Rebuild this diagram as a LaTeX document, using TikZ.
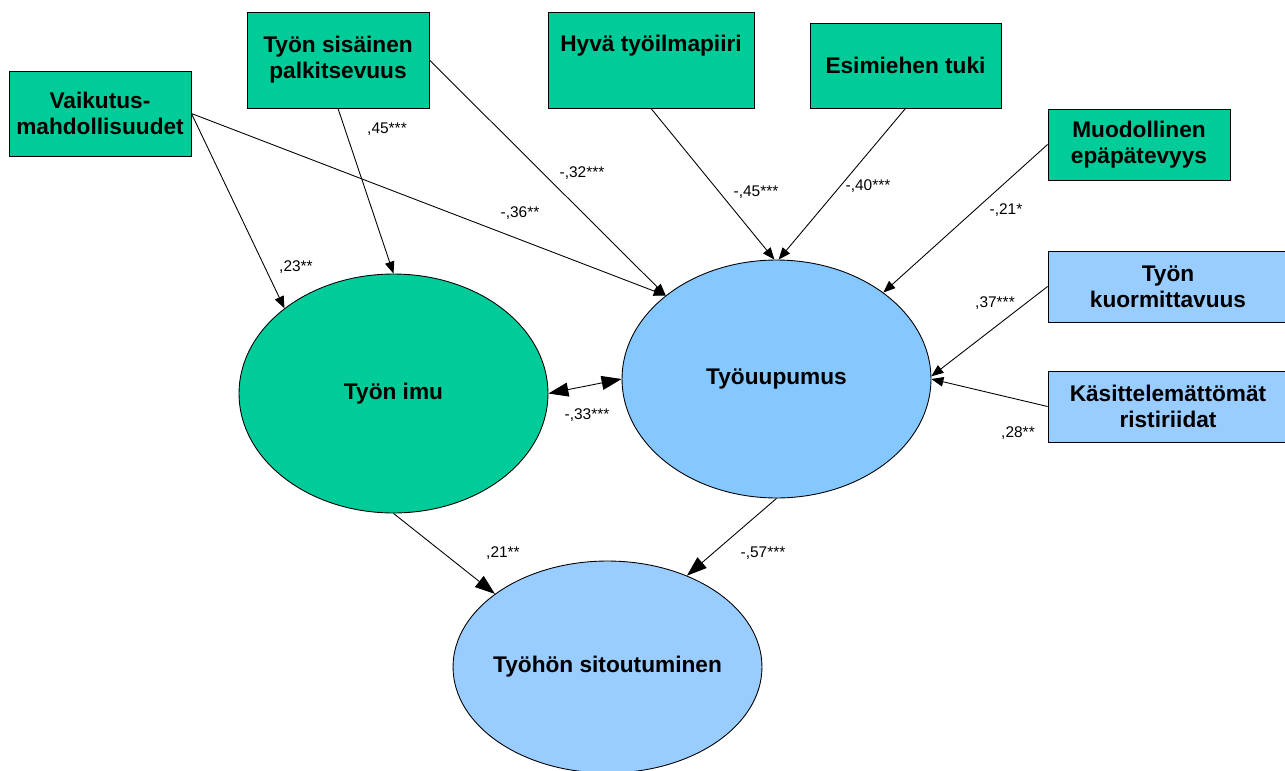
\documentclass[tikz,border=0pt]{standalone}
\usepackage{fontspec}
\setmainfont{Liberation Sans}
\usetikzlibrary{shapes.geometric}
\usetikzlibrary{arrows.meta}
\definecolor{imugreen}{HTML}{00CC99}
\definecolor{uupblue}{HTML}{85C8FF}
\definecolor{ltblue}{HTML}{99CCFF}

\begin{document}
\begin{tikzpicture}[x=0.02cm,y=-0.02cm,line width=0.5pt]
\tikzstyle{box}=[draw,rectangle,inner sep=0pt,align=center,font=\bfseries\fontsize{12.9}{14.7}\selectfont]
\tikzstyle{latent}=[draw,ellipse,inner sep=0pt,minimum width=6.18cm,font=\bfseries\fontsize{12.9}{14.7}\selectfont]
\tikzstyle{coef}=[inner sep=0pt,font=\fontsize{8.8}{10}\selectfont]
\tikzstyle{arr}=[-{Triangle[length=0.24cm,width=0.19cm]}]
\tikzstyle{bigarr}=[-{Triangle[length=0.4cm,width=0.28cm]}]
\tikzstyle{dblarr}=[{Triangle[length=0.4cm,width=0.28cm]}-{Triangle[length=0.4cm,width=0.28cm]}]
\useasboundingbox (0,0) rectangle (1285,771);
\clip (0,0) rectangle (1285,771);
% explanatory variables
\node [box,fill=imugreen,minimum width=3.64cm,minimum height=1.70cm] (v) at (100,113.5) {Vaikutus-\\mahdollisuudet};
\node [box,fill=imugreen,minimum width=3.64cm,minimum height=1.92cm] (s) at (338,60) {Työn sisäinen\\palkitsevuus};
\node [box,fill=imugreen,minimum width=4.12cm,minimum height=1.92cm] (h) at (651,60) {Hyvä työilmapiiri\\ \strut};
\node [box,fill=imugreen,minimum width=3.82cm,minimum height=1.70cm] (e) at (905.5,65.5) {Esimiehen tuki};
\node [box,fill=imugreen,minimum width=3.64cm,minimum height=1.42cm] (m) at (1139,144.5) {Muodollinen\\epäpätevyys};
\node [box,fill=ltblue,minimum width=4.80cm,minimum height=1.42cm] (k) at (1168,286.5) {Työn\\kuormittavuus};
\node [box,fill=ltblue,minimum width=4.80cm,minimum height=1.42cm] (c) at (1168,406.5) {Käsittelemättömät\\ristiriidat};
% latent variables
\node [latent,fill=imugreen,minimum height=4.78cm] (i) at (393.5,393.5) {Työn imu};
\node [latent,fill=uupblue,minimum height=4.76cm] (u) at (776.5,379) {Työuupumus};
\node [latent,fill=ltblue,minimum height=4.24cm] (t) at (607.5,667) {\makebox[0pt]{Työhön sitoutuminen}};
% paths
\draw [arr] (v.east) -- (i.142.6);
\draw [arr] (v.east) -- (u.143.5);
\draw [arr] (s.south) -- (i.north);
\draw [arr] (s.east) -- (u.143.5);
\draw [arr] (h.south) -- (u.91);
\draw [arr] (e.south) -- (u.89);
\draw [arr] (m.west) -- (u.39.5);
\draw [arr] (k.west) -- (u.1);
\draw [arr] (c.west) -- (u.east);
\draw [dblarr] (i.east) -- (u.west);
\draw [bigarr] (i.south) -- (t.147.4);
\draw [bigarr] (u.south) -- (t.49.2);
% coefficients
\node [coef] (l1) at (296,267) {,23**};
\node [coef] (l2) at (387,129) {,45***};
\node [coef] (l3) at (520,213) {-,36**};
\node [coef] (l4) at (582,173) {-,32***};
\node [coef] (l5) at (756,192) {-,45***};
\node [coef] (l6) at (868,186) {-,40***};
\node [coef] (l7) at (1006,210) {-,21*};
\node [coef] (l8) at (995,303) {,37***};
\node [coef] (l9) at (1018,433) {,28**};
\node [coef] (l10) at (587,415) {-,33***};
\node [coef] (l11) at (503,553) {,21**};
\node [coef] (l12) at (763,553) {-,57***};
\end{tikzpicture}
\end{document}
